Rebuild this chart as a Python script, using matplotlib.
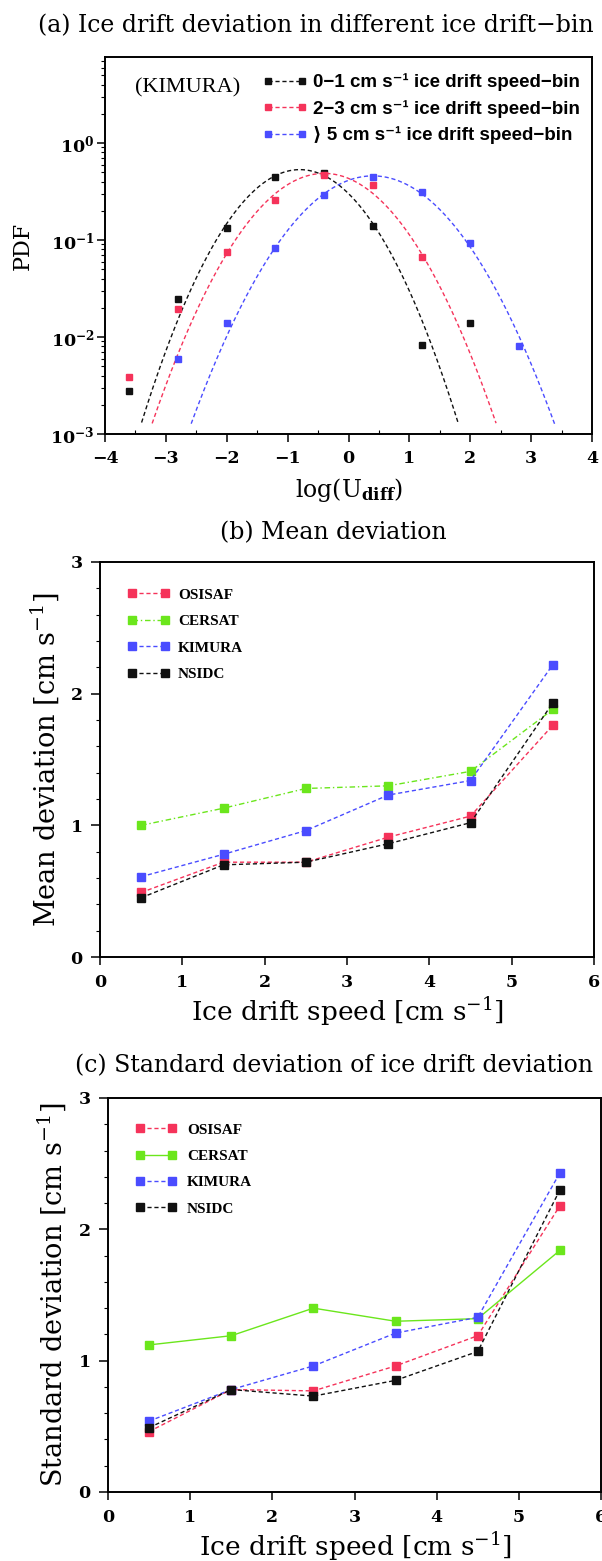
import numpy as np
import matplotlib.pyplot as plt
from matplotlib.lines import Line2D
from matplotlib.ticker import MultipleLocator, LogLocator, NullFormatter

plt.rcParams['font.family'] = 'DejaVu Serif'
plt.rcParams['mathtext.fontset'] = 'dejavuserif'

W, H = 602, 1561

# -----------------------------
# (a) PDF of ice drift deviation, KIMURA
# -----------------------------
bin_centres = [-3.6, -2.8, -2.0, -1.2, -0.4, 0.4, 1.2, 2.0, 2.8]
pdf_0_1 = [0.0028, 0.0248, 0.132, 0.448, 0.496, 0.139, 0.0083, 0.0139, np.nan]
pdf_2_3 = [0.0039, 0.0196, 0.0747, 0.258, 0.466, 0.367, 0.0675, np.nan, np.nan]
pdf_gt5 = [np.nan, 0.0060, 0.0139, 0.082, 0.294, 0.448, 0.314, 0.094, 0.0080]

# normal fit to each speed bin
fit_mean = [-0.80, -0.40, 0.40]
fit_std = [0.75, 0.82, 0.87]

bin_labels = ["0\u22121 cm s\u207b\u00b9 ice drift speed\u2212bin",
              "2\u22123 cm s\u207b\u00b9 ice drift speed\u2212bin",
              "\u27e9 5 cm s\u207b\u00b9 ice drift speed\u2212bin"]

# -----------------------------
# (b) mean and (c) std of deviation per product
# -----------------------------
speed = [0.5, 1.5, 2.5, 3.5, 4.5, 5.5]
products = ["OSISAF", "CERSAT", "KIMURA", "NSIDC"]

mean_osisaf = [0.49, 0.72, 0.72, 0.91, 1.07, 1.76]
mean_cersat = [1.00, 1.13, 1.28, 1.30, 1.41, 1.88]
mean_kimura = [0.61, 0.78, 0.96, 1.23, 1.34, 2.22]
mean_nsidc = [0.45, 0.70, 0.72, 0.86, 1.02, 1.93]

std_osisaf = [0.46, 0.78, 0.77, 0.96, 1.19, 2.18]
std_cersat = [1.12, 1.19, 1.40, 1.30, 1.32, 1.84]
std_kimura = [0.54, 0.78, 0.96, 1.21, 1.33, 2.43]
std_nsidc = [0.49, 0.78, 0.73, 0.85, 1.07, 2.30]

RED = "#f5335a"
GREEN = "#6be61c"
BLUE = "#4a4cff"
BLACK = "#111111"
DASH = (0, (3, 2))
DASHDOT = (0, (4, 2, 1, 2))
UNIT = "[cm s$^{-1}$]"


def axes_px(fig, left, top, right, bottom):
    # place an axes using pixel edges of the figure
    return fig.add_axes([left / W, 1 - bottom / H,
                         (right - left) / W, (bottom - top) / H])


def style_axes(ax):
    for sp in ax.spines.values():
        sp.set_linewidth(1.4)
    ax.tick_params(which='major', direction='out', width=1.1,
                   labelsize=12.5)
    ax.tick_params(which='minor', direction='out', width=0.8, length=3)


fig = plt.figure(figsize=(W / 100, H / 100), dpi=100)

# ---------- panel (a) ----------
ax = axes_px(fig, 105, 57, 592, 434)
style_axes(ax)
ax.set_yscale('log')
ax.set_xlim(-4, 4)
ax.set_ylim(1e-3, 10 ** 0.887)

xs = np.linspace(-4, 4, 600)
pdf_sets = [pdf_0_1, pdf_2_3, pdf_gt5]
colours_a = [BLACK, RED, BLUE]
handles = []
for pdf, mu, sd, c in zip(pdf_sets, fit_mean, fit_std, colours_a):
    curve = np.exp(-(xs - mu) ** 2 / (2 * sd ** 2)) / (sd * np.sqrt(2 * np.pi))
    curve[curve < 1.25e-3] = np.nan
    ax.plot(xs, curve, color=c, lw=1.0, ls=DASH)
    ax.plot(bin_centres, pdf, 's', color=c, ms=4.8)
    handles.append(Line2D([], [], color=c, lw=1.0, ls=DASH,
                          marker='s', ms=4.5))

ax.xaxis.set_major_locator(MultipleLocator(1))
ax.xaxis.set_minor_locator(MultipleLocator(0.5))
ax.yaxis.set_major_locator(LogLocator(base=10, numticks=10))
ax.yaxis.set_minor_locator(LogLocator(base=10, subs=np.arange(2, 10),
                                      numticks=20))
ax.yaxis.set_minor_formatter(NullFormatter())
ax.tick_params(axis='x', which='major', length=5.5, pad=6)
ax.tick_params(axis='x', which='minor', direction='in', length=3)
ax.tick_params(axis='y', which='major', length=6, pad=1.5)

ax.set_xlabel(r'log(U$_{\mathbf{diff}}$)', fontsize=17, va='center')
ax.xaxis.set_label_coords(0.501, -0.1485)
ax.set_ylabel('PDF', fontsize=16, va='center')
ax.yaxis.set_label_coords(-0.168, 0.5)

ax.text(0.170, 0.918, '(KIMURA)', transform=ax.transAxes, ha='center',
        va='center', fontsize=16, family='Liberation Serif')
ax.legend(handles, bin_labels, loc='upper left',
          bbox_to_anchor=(0.323, 0.956), frameon=False, numpoints=2,
          borderpad=0, borderaxespad=0, handlelength=2.41,
          handletextpad=0.31, labelspacing=0.45,
          prop={'family': ['Liberation Sans', 'DejaVu Sans'],
                'weight': 'bold', 'size': 13.5})

fig.text(38 / W, 1 - 26 / H,
         '(a) Ice drift deviation in different ice drift\u2212bin',
         ha='left', va='center', fontsize=17)


# ---------- panels (b) and (c) ----------
def product_panel(ax, series, cersat_ls, leg_xy, leg_hl, leg_pad, ylabel,
                  ylab_x):
    style_axes(ax)
    colours = [RED, GREEN, BLUE, BLACK]
    styles = [DASH, cersat_ls, DASH, DASH]
    for vals, name, c, ls in zip(series, products, colours, styles):
        ax.plot(speed, vals, color=c, ls=ls, lw=1.0, marker='s', ms=5.5,
                label=name)
    ax.set_xlim(0, 6)
    ax.set_ylim(0, 3)
    ax.xaxis.set_major_locator(MultipleLocator(1))
    ax.yaxis.set_major_locator(MultipleLocator(1))
    ax.yaxis.set_minor_locator(MultipleLocator(0.2))
    ax.tick_params(axis='x', which='major', length=6, pad=6)
    ax.tick_params(axis='y', which='major', length=6.5, pad=6)
    ax.set_xlabel('Ice drift speed ' + UNIT, fontsize=19, va='center')
    ax.xaxis.set_label_coords(0.502, -0.138)
    ax.set_ylabel(ylabel, fontsize=19.5, va='center')
    ax.yaxis.set_label_coords(ylab_x, 0.5)
    ax.legend(loc='upper left', bbox_to_anchor=leg_xy, frameon=False,
              numpoints=2, borderpad=0, borderaxespad=0,
              handlelength=leg_hl, handletextpad=leg_pad, labelspacing=0.83,
              prop={'family': 'Liberation Serif', 'weight': 'bold',
                    'size': 11})


ax_b = axes_px(fig, 100, 562, 594, 957)
product_panel(ax_b, [mean_osisaf, mean_cersat, mean_kimura, mean_nsidc],
              DASHDOT, (0.0555, 0.934), 2.76, 0.55,
              'Mean deviation ' + UNIT, -0.113)
fig.text(220 / W, 1 - 533 / H, '(b) Mean deviation', ha='left',
         va='center', fontsize=17)

ax_c = axes_px(fig, 108, 1098, 601, 1492)
product_panel(ax_c, [std_osisaf, std_cersat, std_kimura, std_nsidc],
              '-', (0.0566, 0.937), 2.69, 0.65,
              'Standard deviation ' + UNIT, -0.114)
fig.text(75 / W, 1 - 1066 / H,
         '(c) Standard deviation of ice drift deviation', ha='left',
         va='center', fontsize=17)

# bold tick numbers on every panel
fig.canvas.draw()
for a in (ax, ax_b, ax_c):
    for lbl in a.get_xticklabels() + a.get_yticklabels():
        lbl.set_fontweight('bold')

fig.savefig('out.png', dpi=100)
